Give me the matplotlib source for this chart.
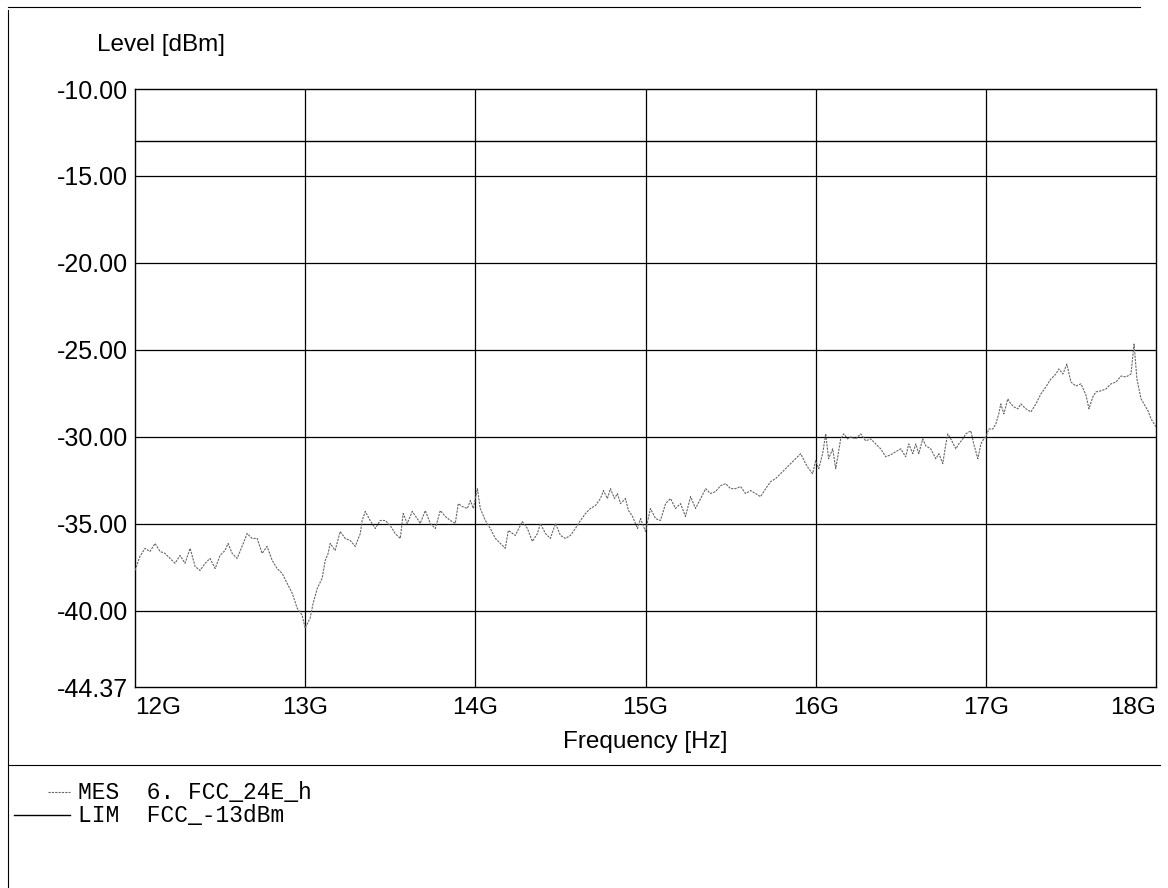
import matplotlib
matplotlib.use("Agg")
import matplotlib.pyplot as plt
from matplotlib.lines import Line2D

# measured trace (frequency in GHz, level in dBm)
freq_ghz = [
    12.000, 12.029, 12.059, 12.088, 12.118, 12.147, 12.176, 12.206, 12.235, 12.265,
    12.294, 12.324, 12.353, 12.382, 12.412, 12.441, 12.471, 12.500, 12.529, 12.547,
    12.571, 12.600, 12.629, 12.659, 12.688, 12.718, 12.747, 12.776, 12.806, 12.835,
    12.865, 12.894, 12.924, 12.953, 12.982, 13.000, 13.029, 13.047, 13.071, 13.100,
    13.118, 13.135, 13.147, 13.176, 13.206, 13.235, 13.265, 13.294, 13.324, 13.335,
    13.353, 13.382, 13.412, 13.441, 13.471, 13.500, 13.529, 13.559, 13.576, 13.600,
    13.629, 13.659, 13.676, 13.706, 13.735, 13.765, 13.794, 13.824, 13.853, 13.882,
    13.900, 13.924, 13.953, 13.971, 13.988, 14.012, 14.029, 14.059, 14.088, 14.118,
    14.147, 14.176, 14.194, 14.235, 14.276, 14.306, 14.335, 14.365, 14.382, 14.412,
    14.441, 14.471, 14.500, 14.529, 14.559, 14.588, 14.618, 14.647, 14.676, 14.706,
    14.735, 14.753, 14.776, 14.794, 14.818, 14.835, 14.853, 14.882, 14.900, 14.924,
    14.953, 14.971, 15.000, 15.029, 15.059, 15.088, 15.118, 15.147, 15.176, 15.206,
    15.235, 15.265, 15.294, 15.324, 15.353, 15.382, 15.412, 15.441, 15.471, 15.500,
    15.529, 15.559, 15.588, 15.618, 15.647, 15.676, 15.706, 15.735, 15.765, 15.794,
    15.824, 15.853, 15.882, 15.912, 15.941, 15.959, 15.982, 16.000, 16.018, 16.041,
    16.059, 16.076, 16.100, 16.118, 16.147, 16.165, 16.188, 16.206, 16.235, 16.265,
    16.294, 16.324, 16.353, 16.382, 16.412, 16.441, 16.471, 16.500, 16.529, 16.547,
    16.571, 16.588, 16.606, 16.629, 16.647, 16.676, 16.706, 16.724, 16.747, 16.765,
    16.776, 16.794, 16.824, 16.841, 16.865, 16.882, 16.912, 16.929, 16.953, 16.971,
    16.988, 17.000, 17.018, 17.041, 17.059, 17.076, 17.088, 17.106, 17.129, 17.147,
    17.165, 17.188, 17.206, 17.235, 17.265, 17.294, 17.324, 17.353, 17.382, 17.412,
    17.429, 17.453, 17.476, 17.500, 17.529, 17.559, 17.588, 17.606, 17.629, 17.647,
    17.676, 17.706, 17.735, 17.765, 17.794, 17.824, 17.853, 17.871, 17.888, 17.912,
    17.929, 17.953, 17.971, 18.000,
]
level_dbm = [
    -37.67, -36.86, -36.40, -36.58, -36.12, -36.58, -36.69, -36.98, -37.26, -36.81,
    -37.26, -36.40, -37.44, -37.67, -37.26, -36.98, -37.56, -36.81, -36.52, -36.12,
    -36.69, -36.98, -36.29, -35.55, -35.83, -35.83, -36.69, -36.29, -37.09, -37.56,
    -37.84, -38.41, -38.98, -39.84, -40.24, -40.99, -40.41, -39.56, -38.70, -38.12,
    -37.09, -36.69, -36.12, -36.52, -35.43, -35.83, -35.95, -36.29, -35.55, -34.80,
    -34.28, -34.80, -35.26, -34.80, -34.80, -35.09, -35.55, -35.83, -34.40, -34.97,
    -34.28, -34.69, -34.97, -34.23, -34.97, -35.26, -34.23, -34.57, -34.80, -34.97,
    -33.83, -34.00, -34.11, -33.65, -34.11, -32.97, -34.11, -34.80, -35.26, -35.83,
    -36.12, -36.40, -35.37, -35.66, -34.86, -35.26, -36.00, -35.55, -34.97, -35.55,
    -35.83, -34.97, -35.66, -35.83, -35.66, -35.26, -34.80, -34.40, -34.11, -33.94,
    -33.54, -33.08, -33.54, -32.97, -33.54, -33.25, -33.83, -33.54, -34.23, -34.57,
    -35.26, -34.69, -35.43, -34.11, -34.69, -34.80, -33.83, -33.54, -34.11, -33.83,
    -34.57, -33.43, -34.11, -33.54, -32.97, -33.25, -33.14, -32.80, -32.68, -32.97,
    -32.97, -32.85, -33.25, -33.08, -33.25, -33.43, -32.97, -32.57, -32.39, -32.11,
    -31.82, -31.53, -31.25, -30.96, -31.53, -31.82, -32.11, -31.36, -31.82, -30.96,
    -29.82, -31.25, -30.68, -31.82, -30.11, -29.82, -30.11, -30.00, -30.11, -29.82,
    -30.22, -30.11, -30.40, -30.68, -31.14, -31.02, -30.85, -30.68, -31.14, -30.40,
    -30.96, -30.40, -30.96, -30.11, -30.51, -30.68, -31.25, -30.96, -31.53, -30.40,
    -29.82, -30.11, -30.68, -30.40, -30.11, -29.82, -29.65, -30.40, -31.25, -30.40,
    -30.11, -30.00, -29.54, -29.54, -29.25, -28.67, -28.10, -28.67, -27.81, -28.10,
    -28.27, -28.38, -28.10, -28.38, -28.56, -28.10, -27.52, -27.12, -26.67, -26.38,
    -26.09, -26.38, -25.81, -26.84, -27.07, -26.95, -27.58, -28.38, -27.69, -27.41,
    -27.35, -27.24, -26.95, -26.84, -26.50, -26.55, -26.38, -24.66, -26.67, -27.81,
    -28.10, -28.50, -28.96, -29.42,
]

limit_dbm = -13.0
x_ticks = [12, 13, 14, 15, 16, 17, 18]
x_labels = ["12G", "13G", "14G", "15G", "16G", "17G", "18G"]
y_ticks = [-10, -15, -20, -25, -30, -35, -40, -44.37]

plt.rcParams["font.family"] = ["Liberation Sans", "DejaVu Sans"]

fig = plt.figure(figsize=(11.68, 8.88), dpi=100)
ax = fig.add_axes([135 / 1168, 1 - 687 / 888, (1156 - 135) / 1168, (687 - 89) / 888])

# grid
for yv in y_ticks[1:-1]:
    ax.axhline(yv, color="black", lw=0.9, zorder=1)
for xv in x_ticks[1:-1]:
    ax.axvline(xv, color="black", lw=0.9, zorder=1)

# limit line and measurement
ax.plot([x_ticks[0], x_ticks[-1]], [limit_dbm, limit_dbm], color="black", lw=1.0, zorder=2)
ax.plot(freq_ghz, level_dbm, color="#666666", lw=0.8, ls=(0, (2, 1)), zorder=3)

ax.set_xlim(12, 18)
ax.set_ylim(-44.37, -10)
ax.set_yticks(y_ticks)
ax.set_yticklabels(["%.2f" % v for v in y_ticks], fontsize=18)
ax.set_xticks(x_ticks)
ax.set_xticklabels(x_labels, fontsize=17.5)
ax.tick_params(axis="y", length=0, pad=5)
ax.tick_params(axis="x", length=0, pad=7)
xl = ax.get_xticklabels()
xl[0].set_ha("left")
xl[-1].set_ha("right")
for s in ax.spines.values():
    s.set_color("black")
    s.set_linewidth(1.0)

fig.text(97 / 1168, 1 - 45 / 888, "Level [dBm]", fontsize=17.5, va="center", ha="left")
fig.text(645 / 1168, 1 - 742 / 888, "Frequency [Hz]", fontsize=17.5, va="center", ha="center")

# outer page frame
fig.add_artist(Line2D([8 / 1168, 1140 / 1168], [1 - 7 / 888, 1 - 7 / 888], color="black", lw=0.8))
fig.add_artist(Line2D([8 / 1168, 8 / 1168], [1 - 10 / 888, 0], color="black", lw=0.8))
fig.add_artist(Line2D([8 / 1168, 1160 / 1168], [1 - 765 / 888, 1 - 765 / 888], color="black", lw=0.8))

# legend block
fig.add_artist(Line2D([48 / 1168, 70 / 1168], [1 - 792 / 888, 1 - 792 / 888],
                      color="#666666", lw=0.8, ls=(0, (2, 1))))
fig.add_artist(Line2D([14 / 1168, 70 / 1168], [1 - 815 / 888, 1 - 815 / 888], color="black", lw=1.0))
fig.text(78 / 1168, 1 - 792 / 888, "MES  6. FCC_24E_h", fontsize=16.5,
         family=["Liberation Mono", "DejaVu Sans Mono"], va="center", ha="left")
fig.text(78 / 1168, 1 - 815 / 888, "LIM  FCC_-13dBm", fontsize=16.5,
         family=["Liberation Mono", "DejaVu Sans Mono"], va="center", ha="left")

fig.savefig("out.png", dpi=100, facecolor="white")
